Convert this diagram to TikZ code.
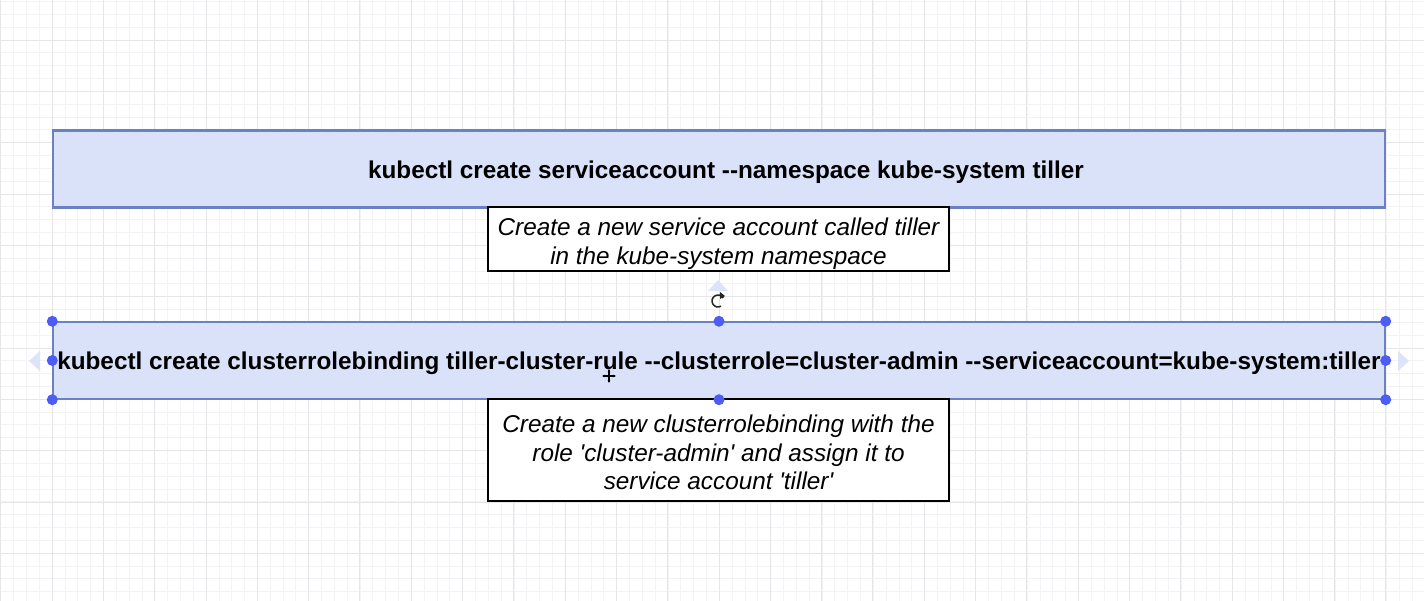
\documentclass[tikz,border=0pt]{standalone}
\usepackage{fontspec}
\setmainfont{Liberation Sans}[Ligatures=TeXOff]
\usetikzlibrary{arrows.meta,calc}
\definecolor{boxfill}{HTML}{DAE2FA}
\definecolor{boxline}{HTML}{6C80C4}
\definecolor{gridminor}{HTML}{F3F3F5}
\definecolor{gridmajor}{HTML}{E6E6EA}
\definecolor{handle}{HTML}{4D5CF5}
\definecolor{hint}{HTML}{DDE4FA}
\newcommand{\lowerby}[2]{\raisebox{-#1}[\height][\depth]{#2}}
\tikzset{
  cmdbox/.style={draw=boxline, line width=2.4pt, fill=boxfill, minimum width=1332pt, minimum height=77pt, inner sep=0pt, font=\bfseries\fontsize{24.3}{27}\selectfont},
  notebox/.style={draw=black, line width=2pt, fill=white, minimum width=461pt, inner sep=0pt, align=center, font=\itshape\fontsize{24.3}{28.5}\selectfont},
  hdl/.style={circle, fill=handle, minimum size=11pt, inner sep=0pt},
  hintarrow/.style={fill=hint, draw=none}
}
\begin{document}
\begin{tikzpicture}[x=1pt,y=-1pt]
\useasboundingbox (0,0) rectangle (1424,601);
\fill[white] (0,0) rectangle (1424,601);
% grid
\foreach \i in {0,...,112} {
  \draw[gridminor, line width=0.8pt] ({0.8+\i*12.83},0) -- ({0.8+\i*12.83},601);
}
\foreach \j in {0,...,47} {
  \draw[gridminor, line width=0.8pt] (0,{1.5+\j*12.83}) -- (1424,{1.5+\j*12.83});
}
\foreach \i in {0,...,28} {
  \draw[gridmajor, line width=0.9pt] ({0.8+\i*51.3},0) -- ({0.8+\i*51.3},601);
}
\foreach \j in {0,...,11} {
  \draw[gridmajor, line width=0.9pt] (0,{40.3+\j*51.3-51.3}) -- (1424,{40.3+\j*51.3-51.3});
}
% boxes
\node[cmdbox] (c1) at (719,169) {\hspace*{14pt}\lowerby{3pt}{kubectl create serviceaccount --namespace kube-system tiller}};
\node[notebox, minimum height=64pt] (n1) at (718.5,239.5) {\lowerby{5pt}{\begin{tabular}{@{}c@{}}Create a new service account called tiller\\in the kube-system namespace\end{tabular}}};
\node[cmdbox, line width=1.4pt] (c2) at (719,360.5) {\lowerby{3pt}{kubectl create clusterrolebinding tiller-cluster-rule --clusterrole=cluster-admin --serviceaccount=kube-system:tiller}};
\node[notebox, minimum height=102pt] (n2) at (718.5,450) {\lowerby{5.5pt}{\begin{tabular}{@{}c@{}}Create a new clusterrolebinding with the\\role 'cluster-admin' and assign it to\\service account 'tiller'\end{tabular}}};
\draw[black, line width=1pt, dash pattern=on 2pt off 1pt] (n2.north west) -- (n2.north east);
% selection handles
\foreach \p in {c2.north west, c2.north, c2.north east, c2.west, c2.east, c2.south west, c2.south, c2.south east} {
  \node[hdl] at (\p) {};
}
% hint arrows
\coordinate (hl) at (35,361);
\coordinate (hr) at (1403,361);
\coordinate (ht) at (718,286);
\fill[hintarrow] ($(hl)+(-6,0)$) -- ($(hl)+(5,-10)$) -- ($(hl)+(5,10)$) -- cycle;
\fill[hintarrow] ($(hr)+(6,0)$) -- ($(hr)+(-5,-10)$) -- ($(hr)+(-5,10)$) -- cycle;
\fill[hintarrow] ($(ht)+(0,-6)$) -- ($(ht)+(-10,5)$) -- ($(ht)+(10,5)$) -- cycle;
% rotate icon
\coordinate (rot) at (718,301);
\draw[black!85, line width=1.5pt] ($(rot)+(60:6)$) arc[start angle=-60, end angle=-330, radius=6pt];
\fill[black!85] ($(rot)+(2,-9)$) -- ($(rot)+(7,-5)$) -- ($(rot)+(2,-2)$) -- cycle;
% move cursor
\coordinate (mv) at (609,376);
\draw[black, line width=1.2pt] ($(mv)+(-6,0)$) -- ($(mv)+(6,0)$);
\draw[black, line width=1.2pt] ($(mv)+(0,-6)$) -- ($(mv)+(0,6)$);
\foreach \a in {0,90,180,270} {
  \fill[black] ($(mv)+(\a:7)$) -- ($(mv)+(\a+18:4.2)$) -- ($(mv)+(\a-18:4.2)$) -- cycle;
}
\end{tikzpicture}
\end{document}
